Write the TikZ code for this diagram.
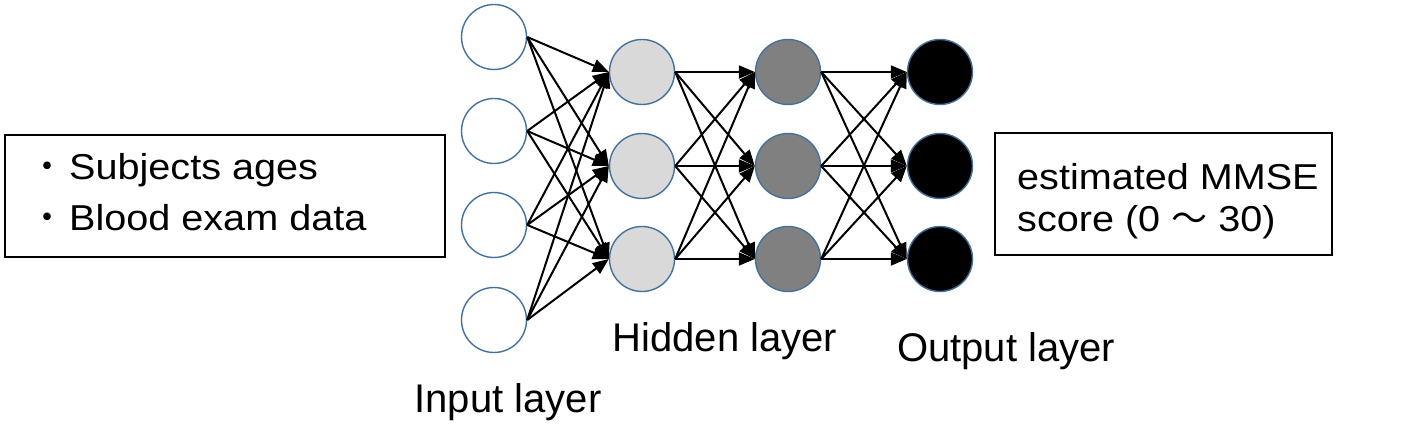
\documentclass[tikz,border=0pt]{standalone}
\usepackage{fontspec}
\setmainfont{Liberation Sans}
\newfontfamily\boxfont[FakeStretch=1.1]{Liberation Sans}
\newfontfamily\cjk{Noto Sans CJK JP}
\usetikzlibrary{arrows.meta}
\definecolor{ringblue}{HTML}{41719C}
\definecolor{lightfill}{HTML}{D9D9D9}
\definecolor{midfill}{HTML}{808080}
\begin{document}
\begin{tikzpicture}[x=1pt,y=-1pt,
  neuron/.style={circle, draw=ringblue, line width=1.4pt, minimum size=65pt, inner sep=0pt},
  link/.style={line width=2pt, -{Triangle[length=16pt,width=13pt]}},
  infobox/.style={draw, line width=2.2pt, inner sep=0pt, fill=white},
  boxtext/.style={font=\boxfont\fontsize{36}{44}\selectfont, inner sep=0pt, anchor=base west},
  layerlabel/.style={font=\fontsize{40}{48}\selectfont, anchor=base, inner sep=0pt}]
\useasboundingbox (0,0) rectangle (1417,430);

% input layer
\node[neuron, fill=white] (i1) at (494,37) {};
\node[neuron, fill=white] (i2) at (494,131) {};
\node[neuron, fill=white] (i3) at (494,225) {};
\node[neuron, fill=white] (i4) at (494,320) {};
% hidden layer 1
\node[neuron, fill=lightfill] (h1) at (642,72) {};
\node[neuron, fill=lightfill] (h2) at (642,166) {};
\node[neuron, fill=lightfill] (h3) at (642,259) {};
% hidden layer 2
\node[neuron, fill=midfill] (g1) at (788,72) {};
\node[neuron, fill=midfill] (g2) at (788,166) {};
\node[neuron, fill=midfill] (g3) at (788,259) {};
% output layer
\node[neuron, fill=black] (o1) at (940,72) {};
\node[neuron, fill=black] (o2) at (940,166) {};
\node[neuron, fill=black] (o3) at (940,259) {};

\foreach \a in {1,...,4}
  \foreach \b in {1,2,3}
    \draw[link] (i\a.east) -- (h\b.west);
\foreach \a in {1,2,3}
  \foreach \b in {1,2,3}{
    \draw[link] (h\a.east) -- (g\b.west);
    \draw[link] (g\a.east) -- (o\b.west);
  }

% boxes
\node[infobox, minimum width=440pt, minimum height=122pt] (inbox) at (225,196) {};
\node[boxtext] (in1) at (25,180) {\makebox[44pt][c]{\cjk ・}Subjects ages};
\node[boxtext] (in2) at (25,231) {\makebox[44pt][c]{\cjk ・}Blood exam data};

\node[infobox, minimum width=337pt, minimum height=122pt] (outbox) at (1163.5,194) {};
\node[boxtext] (out1) at (1017,190) {estimated MMSE};
\node[boxtext] (out2) at (1017,232) {score (0 {\cjk ～} 30)};

% labels
\node[layerlabel] (linput) at (508,412) {Input layer};
\node[layerlabel] (lhidden) at (725,352) {Hidden layer};
\node[layerlabel] (loutput) at (1006,362) {Output layer};
\end{tikzpicture}
\end{document}
